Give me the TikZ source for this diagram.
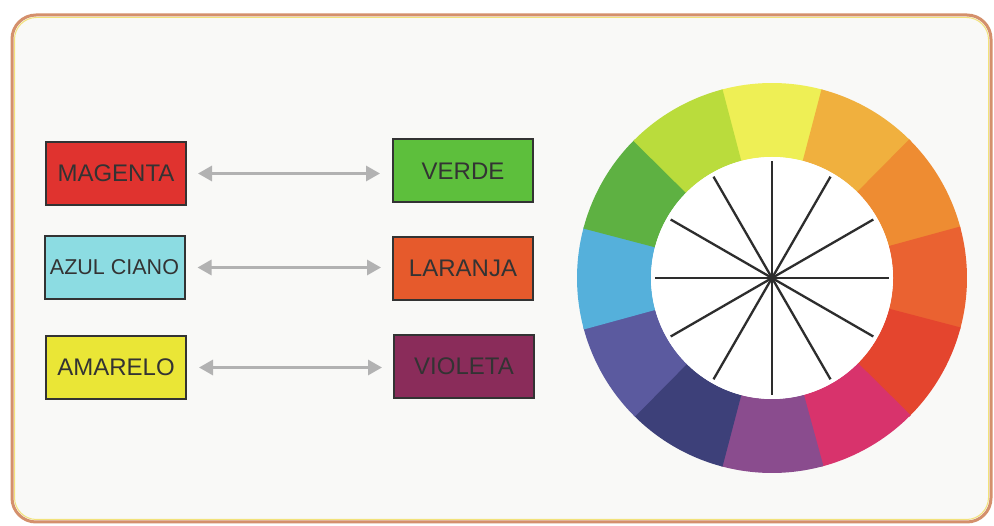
\documentclass[tikz,border=0pt]{standalone}
\usepackage{fontspec}
\setmainfont{Liberation Sans}
\usetikzlibrary{arrows.meta}
\definecolor{frameor}{HTML}{D4906C}
\definecolor{frameyl}{HTML}{F2E27A}
\definecolor{paper}{HTML}{F9F9F7}
\definecolor{txt}{HTML}{333333}
\definecolor{cMag}{HTML}{E0332F}
\definecolor{cVer}{HTML}{5DBF3C}
\definecolor{cAzu}{HTML}{8CDCE2}
\definecolor{cLar}{HTML}{E65A2C}
\definecolor{cAma}{HTML}{EAE636}
\definecolor{cVio}{HTML}{8A2C5A}
\definecolor{w090}{HTML}{EEEF55}
\definecolor{w060}{HTML}{F0B03E}
\definecolor{w030}{HTML}{EE8C32}
\definecolor{w000}{HTML}{EA6231}
\definecolor{w330}{HTML}{E4452E}
\definecolor{w300}{HTML}{D8336C}
\definecolor{w270}{HTML}{8A4C8E}
\definecolor{w240}{HTML}{3D4079}
\definecolor{w210}{HTML}{5B5A9F}
\definecolor{w180}{HTML}{55B0DB}
\definecolor{w150}{HTML}{5EB142}
\definecolor{w120}{HTML}{BADC3C}
\tikzset{
  colbox/.style={draw=txt, line width=2pt, minimum width=140pt, minimum height=63pt,
    inner sep=0pt, text=txt, font=\fontsize{24}{27}\selectfont},
  pairarrow/.style={line width=3pt, draw={rgb,255:red,178;green,178;blue,178},
    {Triangle[length=14pt,width=15pt]}-{Triangle[length=14pt,width=15pt]}},
  spoke/.style={line width=2.3pt, draw={rgb,255:red,45;green,45;blue,45}}
}
\begin{document}
\begin{tikzpicture}[x=1pt,y=-1pt]
\useasboundingbox (0,0) rectangle (994,526);
\fill[white] (0,0) rectangle (994,526);
% frame
\fill[paper, rounded corners=24pt] (12,15) rectangle (991,522);
\draw[frameyl, line width=1pt, rounded corners=22pt] (14.5,17.5) rectangle (988.5,519.5);
\draw[frameor, line width=3pt, rounded corners=24pt] (12,15) rectangle (991,522);

% boxes
\node[colbox, fill=cMag] (magenta) at (116,173.5) {MAGENTA};
\node[colbox, fill=cVer] (verde) at (463,171) {VERDE};
\node[colbox, fill=cAzu, font=\fontsize{21.5}{24}\selectfont] (azul) at (114.5,267.5) {AZUL CIANO};
\node[colbox, fill=cLar] (laranja) at (463,268.5) {LARANJA};
\node[colbox, fill=cAma] (amarelo) at (116,367.5) {AMARELO};
\node[colbox, fill=cVio] (violeta) at (464,366.5) {VIOLETA};

% arrows
\draw[pairarrow, shorten <=11pt, shorten >=12pt] (magenta.east) -- (magenta.east -| verde.west);
\draw[pairarrow, shorten <=12pt, shorten >=11pt] (azul.east) -- (azul.east -| laranja.west);
\draw[pairarrow, shorten <=12pt, shorten >=11pt] (amarelo.east) -- (amarelo.east -| violeta.west);

% colour wheel
\begin{scope}[shift={(772,278)}, yscale=-1]
  \foreach \a/\c in {90/w090,60/w060,30/w030,0/w000,-30/w330,-60/w300,-90/w270,-120/w240,-150/w210,180/w180,150/w150,120/w120}{
    \fill[\c] (\a-15.3:121) arc[start angle=\a-15.3, end angle=\a+15.3, radius=121]
      -- (\a+15.3:195) arc[start angle=\a+15.3, end angle=\a-15.3, radius=195] -- cycle;
  }
  \fill[white] (0,0) circle[radius=121];
  \foreach \a in {0,30,...,330}{
    \draw[spoke] (0,0) -- (\a:117);
  }
\end{scope}
\end{tikzpicture}
\end{document}
